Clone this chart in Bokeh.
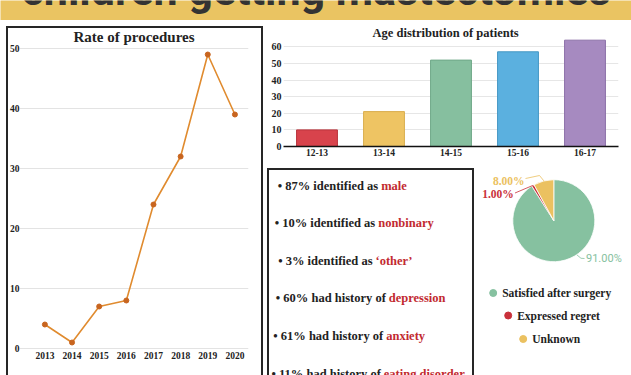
import math
from bokeh.plotting import figure
from bokeh.models import Range1d, FixedTicker, FactorRange, ColumnDataSource, Legend, LegendItem
from bokeh.layouts import row, column
from bokeh.core.properties import value
from bokeh.embed import file_html
from bokeh.resources import INLINE

# ---------------- data ----------------
headline = "children getting mastectomies"

rate_title = "Rate of procedures"
rate_legend = "100,000"
years = [2013, 2014, 2015, 2016, 2017, 2018, 2019, 2020]
rates = [4, 1, 7, 8, 24, 32, 49, 39]
rate_ticks = [0, 10, 20, 30, 40, 50]

age_title = "Age distribution of patients"
age_groups = ["12-13", "13-14", "14-15", "15-16", "16-17"]
age_counts = [10, 21, 52, 57, 64]
age_ticks = [0, 10, 20, 30, 40, 50, 60]
age_colors = ["#D8434C", "#EEC463", "#86BF9F", "#5BB0DF", "#A68AC0"]
age_edges = ["#B8333B", "#D9AE4E", "#6FA888", "#4497C4", "#8C71A8"]

fact_prefix = ["\u2022 87% identified as", "\u2022 10% identified as", "\u2022 3% identified as",
               "\u2022 60% had history of", "\u2022 61% had history of", "\u2022 11% had history of"]
fact_highlight = ["male", "nonbinary", "\u2018other\u2019", "depression", "anxiety", "eating disorder"]

outcome_labels = ["Satisfied after surgery", "Expressed regret", "Unknown"]
outcome_pct = [91.0, 1.0, 8.0]
outcome_colors = ["#86C1A0", "#C9313B", "#EBC160"]

# ---------------- styles ----------------
YEL = "#EAC462"
INK = "#222222"
RED = "#C22A30"
SERIF = value("Liberation Serif")
BOX = "inset 2px 0 0 #262626, inset -2px 0 0 #262626, inset 0 2px 0 #262626"


def bare(p):
    p.outline_line_color = None
    p.border_fill_color = None
    p.background_fill_color = None
    p.grid.visible = False


# ---------------- header ----------------
hdr = figure(width=631, height=20, x_range=Range1d(0, 631), y_range=Range1d(0, 20),
             x_axis_location=None, y_axis_location=None, min_border=0,
             output_backend="svg", toolbar_location=None)
hdr.outline_line_color = None
hdr.grid.visible = False
hdr.background_fill_color = YEL
hdr.border_fill_color = YEL
hdr.text(x=[315.5], y=[6], text=[headline], text_font=value("Roboto"), text_font_style="bold",
         text_font_size="43px", text_color="#333333", text_align="center", text_baseline="bottom")

# ---------------- line chart ----------------
lc = figure(width=257, height=349, title=rate_title,
            x_range=Range1d(2012.065, 2020.5), y_range=Range1d(-1 / 6, 50.67),
            min_border_left=10, min_border_right=15, min_border_top=18, min_border_bottom=26,
            margin=(6, 0, 0, 6), styles={"box-shadow": BOX},
            output_backend="svg", toolbar_location=None)
bare(lc)
lc.title.align = "center"
lc.title.text_font = "Liberation Serif"
lc.title.text_font_size = "15px"
lc.title.text_color = INK
lc.title.standoff = 0
lc.ygrid.visible = True
lc.ygrid.grid_line_color = "#E3E3E3"
lc.yaxis.ticker = FixedTicker(ticks=rate_ticks)
lc.xaxis.ticker = FixedTicker(ticks=years)
for ax in (lc.xaxis[0], lc.yaxis[0]):
    ax.axis_line_color = None
    ax.major_tick_line_color = None
    ax.minor_tick_line_color = None
    ax.major_tick_out = 0
    ax.major_label_text_font = "Liberation Serif"
    ax.major_label_text_font_style = "bold"
    ax.major_label_text_font_size = "9.5px"
    ax.major_label_text_color = INK
lc.yaxis.major_label_text_align = "left"
lc.yaxis.major_label_text_baseline = "bottom"
lc.yaxis.major_label_standoff = 0
lc.xaxis.major_label_standoff = 2
r_line = lc.line(years, rates, line_color="#E08B2F", line_width=1.6)
r_dot = lc.scatter(years, rates, size=5, color="#C8651F")
leg = Legend(items=[LegendItem(label=rate_legend, renderers=[r_line, r_dot])],
             location=(54, -34), orientation="horizontal", padding=0, margin=0, spacing=0,
             glyph_width=16, glyph_height=10, label_height=10, label_standoff=12,
             border_line_color=None, background_fill_alpha=0,
             label_text_font="Liberation Serif", label_text_font_style="bold",
             label_text_font_size="10px", label_text_color=INK)
lc.add_layout(leg)

# ---------------- bar chart ----------------
bc = figure(width=368, height=148, title=age_title,
            x_range=FactorRange(factors=age_groups, range_padding=0), y_range=Range1d(0, 65),
            min_border_left=20, min_border_right=13, min_border_top=18, min_border_bottom=22,
            output_backend="svg", toolbar_location=None)
bare(bc)
bc.title.align = "left"
bc.title.offset = 89
bc.title.standoff = -2
bc.title.text_font = "Liberation Serif"
bc.title.text_font_size = "12.5px"
bc.title.text_color = INK
bc.ygrid.visible = True
bc.ygrid.grid_line_color = "#E6E6E6"
bc.yaxis.ticker = FixedTicker(ticks=age_ticks)
for ax in (bc.xaxis[0], bc.yaxis[0]):
    ax.axis_line_color = None
    ax.major_tick_line_color = None
    ax.minor_tick_line_color = None
    ax.major_tick_out = 0
    ax.major_label_text_font = "Liberation Serif"
    ax.major_label_text_font_style = "bold"
    ax.major_label_text_color = INK
bc.yaxis.major_label_text_font_size = "10px"
bc.yaxis.major_label_text_baseline = "bottom"
bc.yaxis.major_label_standoff = 2
bc.xaxis.major_label_text_font_size = "9.5px"
bc.xaxis.major_label_standoff = 2
bc.xaxis.axis_line_color = "#111111"
bc.xaxis.axis_line_width = 1.5
bc.vbar(x=age_groups, top=age_counts, width=0.61, fill_color=age_colors, line_color=age_edges, line_width=1)

# ---------------- facts panel ----------------
tx = figure(width=207, height=207, x_range=Range1d(0, 207), y_range=Range1d(207, 0),
            x_axis_location=None, y_axis_location=None, min_border=0,
            margin=(0, 0, 0, 4), styles={"box-shadow": BOX},
            output_backend="svg", toolbar_location=None)
bare(tx)
row_y = [17 + 37.65 * i for i in range(len(fact_prefix))]
red_x = [113.7, 110.7, 108.0, 121.3, 118.7, 116.3]
tx.text(x=[v - 3 for v in red_x], y=row_y, text=fact_prefix, text_font=SERIF, text_font_style="bold",
        text_font_size="12.5px", text_color=INK, text_align="right", text_baseline="middle")
tx.text(x=red_x, y=row_y, text=fact_highlight, text_font=SERIF, text_font_style="bold",
        text_font_size="12.5px", text_color=RED, text_align="left", text_baseline="middle")

# ---------------- pie ----------------
pc = figure(width=157, height=207, x_range=Range1d(0, 157), y_range=Range1d(0, 207),
            x_axis_location=None, y_axis_location=None, min_border=0,
            output_backend="svg", toolbar_location=None)
bare(pc)
cum = [0.0]
for v in outcome_pct:
    cum.append(cum[-1] + v / 100.0)
starts = [math.pi / 2 - 2 * math.pi * c for c in cum[:-1]]
ends = [math.pi / 2 - 2 * math.pi * c for c in cum[1:]]
pie_src = ColumnDataSource(dict(start=starts, end=ends, color=outcome_colors))
pc.wedge(x=79.3, y=154.8, radius=41, start_angle="start", end_angle="end", direction="clock",
         fill_color="color", line_color="white", line_width=0.8, source=pie_src)

pct_text = ["%.2f%%" % v for v in outcome_pct]
# leader lines
pc.multi_line(xs=[[102.2, 106.5, 110.0], [40.5, 58.4], [51.0, 65.0, 69.4]],
              ys=[[120.8, 117.2, 117.0], [182.5, 190.1], [197.0, 200.0, 194.6]],
              line_color=outcome_colors, line_width=1, line_alpha=0.8)
pc.text(x=[111.5], y=[116.7], text=[pct_text[0]], text_font=value("Roboto"), text_font_size="11px",
        text_color=outcome_colors[0], text_align="left", text_baseline="middle")
pc.text(x=[39.3, 50.0], y=[181.7, 195.0], text=[pct_text[1], pct_text[2]], text_font=SERIF,
        text_font_style="bold", text_font_size="11.5px", text_color=[outcome_colors[1], outcome_colors[2]],
        text_align="right", text_baseline="middle")
# legend
leg_dot_x = [18.7, 33.7, 48.7]
leg_y = [82.5, 60.0, 36.5]
pc.scatter(x=leg_dot_x, y=leg_y, size=7, color=outcome_colors)
pc.text(x=[v + 9 for v in leg_dot_x], y=leg_y, text=outcome_labels, text_font=SERIF, text_font_style="bold",
        text_font_size="11.5px", text_color=INK, text_align="left", text_baseline="middle")

# ---------------- layout ----------------
right_col = column(bc, row(tx, pc, spacing=0), spacing=0)
main = row(lc, right_col, spacing=0)
root = column(hdr, main, spacing=0)

open("out.html", "w").write(file_html(root, INLINE))
